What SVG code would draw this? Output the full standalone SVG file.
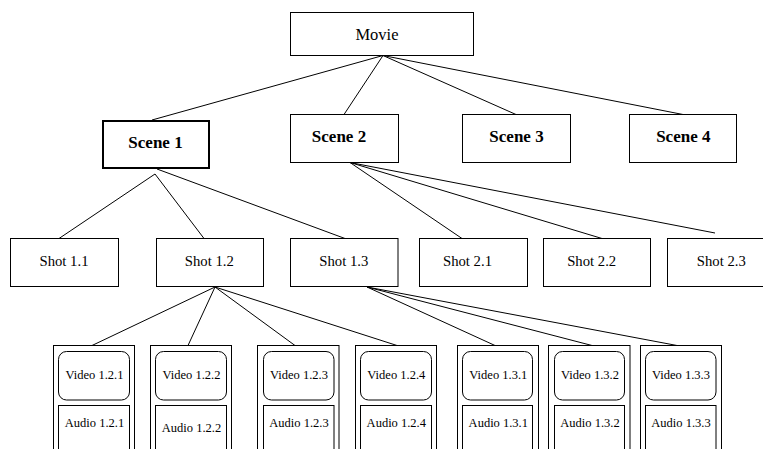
<svg xmlns="http://www.w3.org/2000/svg" width="763" height="449" viewBox="0 0 763 449">
  <style>
    .box { fill: #ffffff; stroke: #000000; stroke-width: 1; }
    .bold-box { fill: #ffffff; stroke: #000000; stroke-width: 2; }
    .clip { fill: #ffffff; stroke: #000000; stroke-width: 1; }
    .edge { stroke: #000000; stroke-width: 1; fill: none; }
    text { font-family: "Liberation Serif", "Times New Roman", serif; fill: #000000; text-anchor: middle; }
    .t-movie { font-size: 16.5px; }
    .t-scene { font-size: 17px; font-weight: bold; }
    .t-shot { font-size: 14.7px; }
    .t-media { font-size: 12.5px; }
  </style>
  <rect width="763" height="449" fill="#ffffff"/>

  <!-- connectors -->
  <g id="connectors">
    <!-- movie to scenes -->
    <line class="edge" x1="383" y1="55.5" x2="152" y2="120"/>
    <line class="edge" x1="383" y1="55.5" x2="344" y2="114.5"/>
    <line class="edge" x1="383" y1="55.5" x2="516" y2="114.5"/>
    <line class="edge" x1="383" y1="55.5" x2="683" y2="114.5"/>
    <!-- scene 1 to shots -->
    <line class="edge" x1="155" y1="174" x2="59" y2="238.5"/>
    <line class="edge" x1="155" y1="174" x2="204" y2="238.5"/>
    <line class="edge" x1="157" y1="169" x2="345" y2="238.5"/>
    <!-- scene 2 to shots -->
    <line class="edge" x1="350" y1="162.5" x2="462" y2="238.5"/>
    <line class="edge" x1="350" y1="162.5" x2="602" y2="238.5"/>
    <line class="edge" x1="350" y1="162.5" x2="715" y2="233"/>
    <!-- shot 1.2 to media -->
    <line class="edge" x1="215" y1="287" x2="92" y2="345.5"/>
    <line class="edge" x1="215" y1="287" x2="188" y2="345.5"/>
    <line class="edge" x1="215" y1="287" x2="295" y2="345.5"/>
    <line class="edge" x1="215" y1="287" x2="397" y2="345.5"/>
    <!-- shot 1.3 to media -->
    <line class="edge" x1="367" y1="287" x2="495" y2="345.5"/>
    <line class="edge" x1="367" y1="287" x2="592" y2="345.5"/>
    <line class="edge" x1="367" y1="287" x2="677" y2="345.5"/>
  </g>

  <!-- top level -->
  <g id="movie">
    <rect class="box" x="290.5" y="12.5" width="183" height="43"/>
    <text class="t-movie" x="377" y="40">Movie</text>
  </g>

  <!-- scenes -->
  <g id="scene1">
    <rect class="bold-box" x="103" y="121" width="106" height="47"/>
    <text class="t-scene" x="155.5" y="147.5">Scene 1</text>
  </g>
  <g id="scene2">
    <rect class="box" x="290.5" y="114.5" width="108" height="48"/>
    <text class="t-scene" x="339" y="141.5">Scene 2</text>
  </g>
  <g id="scene3">
    <rect class="box" x="462.5" y="114.5" width="108" height="48"/>
    <text class="t-scene" x="516.5" y="141.5">Scene 3</text>
  </g>
  <g id="scene4">
    <rect class="box" x="629.5" y="114.5" width="107" height="48"/>
    <text class="t-scene" x="683.3" y="141.5">Scene 4</text>
  </g>

  <!-- shots -->
  <g id="shot11">
    <rect class="box" x="10.5" y="238.5" width="108" height="48"/>
    <text class="t-shot" x="64" y="266">Shot 1.1</text>
  </g>
  <g id="shot12">
    <rect class="box" x="156.5" y="238.5" width="107" height="48"/>
    <text class="t-shot" x="209.3" y="266">Shot 1.2</text>
  </g>
  <g id="shot13">
    <rect class="box" x="290.5" y="238.5" width="107.5" height="48"/>
    <text class="t-shot" x="343.8" y="266">Shot 1.3</text>
  </g>
  <g id="shot21">
    <rect class="box" x="419.5" y="238.5" width="108" height="48"/>
    <text class="t-shot" x="467.5" y="266">Shot 2.1</text>
  </g>
  <g id="shot22">
    <rect class="box" x="543.5" y="238.5" width="107" height="48"/>
    <text class="t-shot" x="591.7" y="266">Shot 2.2</text>
  </g>
  <g id="shot23">
    <rect class="box" x="667.5" y="238.5" width="108" height="48"/>
    <text class="t-shot" x="721.3" y="266">Shot 2.3</text>
  </g>

  <!-- media clips: container with video and audio track -->
  <g id="clip121">
    <rect class="clip" x="53.5" y="345.5" width="81" height="120"/>
    <rect class="box" x="58.5" y="351.5" width="71" height="48.5" rx="8"/>
    <rect class="box" x="58.5" y="405.5" width="71" height="60"/>
    <text class="t-media" x="94.5" y="379">Video 1.2.1</text>
    <text class="t-media" x="94.5" y="426.5">Audio 1.2.1</text>
  </g>
  <g id="clip122">
    <rect class="clip" x="150.5" y="345.5" width="81" height="120"/>
    <rect class="box" x="155.5" y="351.5" width="71" height="48.5" rx="8"/>
    <rect class="box" x="155.5" y="405.5" width="71" height="60"/>
    <text class="t-media" x="191.5" y="379">Video 1.2.2</text>
    <text class="t-media" x="191.5" y="431.5">Audio 1.2.2</text>
  </g>
  <g id="clip123">
    <rect class="clip" x="257.5" y="345.5" width="81.5" height="120"/>
    <rect class="box" x="263.5" y="351.5" width="70.5" height="48.5" rx="8"/>
    <rect class="box" x="263.5" y="405.5" width="70.5" height="60"/>
    <text class="t-media" x="299" y="379">Video 1.2.3</text>
    <text class="t-media" x="299" y="426.5">Audio 1.2.3</text>
  </g>
  <g id="clip124">
    <rect class="clip" x="355.5" y="345.5" width="81" height="120"/>
    <rect class="box" x="360.5" y="351.5" width="71" height="48.5" rx="8"/>
    <rect class="box" x="360.5" y="405.5" width="71" height="60"/>
    <text class="t-media" x="396.3" y="379">Video 1.2.4</text>
    <text class="t-media" x="396.3" y="426.5">Audio 1.2.4</text>
  </g>
  <g id="clip131">
    <rect class="clip" x="457.5" y="345.5" width="81" height="120"/>
    <rect class="box" x="462.5" y="351.5" width="70" height="48.5" rx="8"/>
    <rect class="box" x="462.5" y="405.5" width="70" height="60"/>
    <text class="t-media" x="498.3" y="379">Video 1.3.1</text>
    <text class="t-media" x="498.3" y="426.5">Audio 1.3.1</text>
  </g>
  <g id="clip132">
    <rect class="clip" x="548.5" y="345.5" width="81.5" height="120"/>
    <rect class="box" x="554.5" y="351.5" width="70" height="48.5" rx="8"/>
    <rect class="box" x="554.5" y="405.5" width="70" height="60"/>
    <text class="t-media" x="590" y="379">Video 1.3.2</text>
    <text class="t-media" x="590" y="426.5">Audio 1.3.2</text>
  </g>
  <g id="clip133">
    <rect class="clip" x="640.5" y="345.5" width="81" height="120"/>
    <rect class="box" x="645.5" y="351.5" width="70.5" height="48.5" rx="8"/>
    <rect class="box" x="645.5" y="405.5" width="70.5" height="60"/>
    <text class="t-media" x="681" y="379">Video 1.3.3</text>
    <text class="t-media" x="681" y="426.5">Audio 1.3.3</text>
  </g>
</svg>
